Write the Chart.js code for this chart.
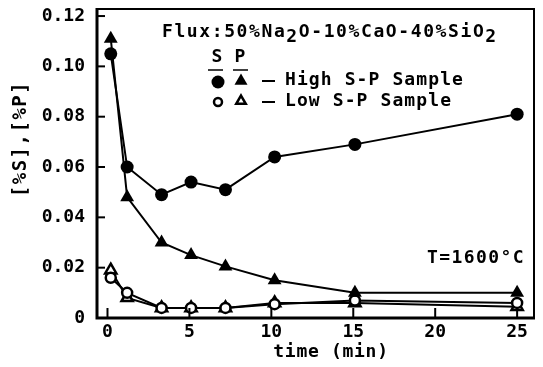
<!DOCTYPE html>
<html><head><meta charset="utf-8">
<script src="https://cdn.jsdelivr.net/npm/chart.js@4/dist/chart.umd.min.js"></script>
<style>html,body{margin:0;padding:0;background:#fff}#wrap{width:543px;height:367px}</style>
</head><body><div id="wrap"><canvas id="c" width="543" height="367"></canvas></div>
<script>
// time (min) of each sample
const times = [0.2, 1.2, 3.3, 5.1, 7.2, 10.2, 15.1, 25.0];
// High S-P sample
const highS = [0.105, 0.060, 0.049, 0.054, 0.051, 0.064, 0.069, 0.081];
const highP = [0.111, 0.048, 0.030, 0.025, 0.0205, 0.015, 0.010, 0.010];
// Low S-P sample
const lowS = [0.016, 0.010, 0.004, 0.004, 0.004, 0.0055, 0.007, 0.006];
const lowP = [0.019, 0.008, 0.004, 0.004, 0.004, 0.006, 0.006, 0.0045];
// axis ticks
const xTicks = [0, 5, 10, 15, 20, 25];
const yTicks = [0, 0.02, 0.04, 0.06, 0.08, 0.10, 0.12];
const yTitle = '[%S],[%P]';
const xTitle = 'time (min)';

const FONT = 'DejaVu Sans Mono';
const pts = arr => times.map((t, i) => ({x: t, y: arr[i]}));

const overlay = {
  id: 'overlay',
  afterDatasetsDraw(chart) {
    const ctx = chart.ctx, a = chart.chartArea;
    const xs = chart.scales.x, ys = chart.scales.y;
    ctx.save();
    ctx.strokeStyle = '#000';
    ctx.lineCap = 'butt';
    // frame
    ctx.lineWidth = 2;
    ctx.beginPath();
    ctx.moveTo(a.left, a.top); ctx.lineTo(a.right, a.top); ctx.lineTo(a.right, a.bottom);
    ctx.stroke();
    ctx.lineWidth = 3;
    ctx.beginPath();
    ctx.moveTo(a.left, a.top - 1); ctx.lineTo(a.left, a.bottom); ctx.lineTo(a.right + 1, a.bottom);
    ctx.stroke();
    // inner ticks
    ctx.lineWidth = 2;
    yTicks.forEach(v => {
      const y = ys.getPixelForValue(v);
      ctx.beginPath(); ctx.moveTo(a.left, y); ctx.lineTo(a.left + 8, y); ctx.stroke();
    });
    xTicks.forEach(v => {
      const x = xs.getPixelForValue(v);
      ctx.beginPath(); ctx.moveTo(x, a.bottom); ctx.lineTo(x, a.bottom - 10); ctx.stroke();
    });
    // texts
    ctx.fillStyle = '#000';
    ctx.font = 'bold 18px "' + FONT + '"';
    ctx.textBaseline = 'middle';
    ctx.textAlign = 'left';
    ctx.letterSpacing = '1.6px';
    // flux text with subscripts
    let x = 162; const fy = 32;
    const parts = [['Flux:50%Na', 0], ['2', 5], ['O-10%CaO-40%SiO', 0], ['2', 5]];
    parts.forEach(([t, dy]) => { ctx.fillText(t, x, fy + dy); x += ctx.measureText(t).width; });
    // legend header
    ctx.letterSpacing = '0px';
    ctx.textAlign = 'center';
    ctx.fillText('S', 217, 57);
    ctx.fillText('P', 240, 57);
    ctx.lineWidth = 1.5;
    ctx.beginPath(); ctx.moveTo(208, 70); ctx.lineTo(223, 70); ctx.moveTo(233, 70); ctx.lineTo(248, 70); ctx.stroke();
    // legend rows
    const H = Chart.helpers;
    ctx.fillStyle = '#000';
    H.drawPoint(ctx, {pointStyle: 'circle', radius: 6.5, borderWidth: 0}, 218, 82);
    H.drawPoint(ctx, {pointStyle: 'triangle', radius: 7.5, borderWidth: 0}, 241, 81);
    ctx.fillStyle = '#fff'; ctx.lineWidth = 2.5;
    H.drawPoint(ctx, {pointStyle: 'circle', radius: 4, borderWidth: 2.5}, 218, 102);
    H.drawPoint(ctx, {pointStyle: 'triangle', radius: 5.5, borderWidth: 2.5}, 241, 101);
    ctx.fillStyle = '#000';
    ctx.lineWidth = 2;
    ctx.beginPath(); ctx.moveTo(262, 81); ctx.lineTo(275, 81); ctx.moveTo(262, 102); ctx.lineTo(275, 102); ctx.stroke();
    ctx.textAlign = 'left';
    ctx.letterSpacing = '1.1px';
    ctx.fillText('High S-P Sample', 285, 80);
    ctx.fillText('Low S-P Sample', 285, 101);
    ctx.letterSpacing = '1.4px';
    ctx.fillText('T=1600°C', 427, 258);
    // x title
    ctx.textAlign = 'center';
    ctx.letterSpacing = '0.7px';
    ctx.fillText(xTitle, 331, 352);
    // y title
    ctx.save();
    ctx.translate(21, 139);
    ctx.rotate(-Math.PI / 2);
    ctx.letterSpacing = '1.5px';
    ctx.font = 'bold 19px "' + FONT + '"';
    ctx.fillText(yTitle, 0, 0);
    ctx.restore();
    ctx.restore();
  }
};

const common = {showLine: true, borderColor: '#000', borderWidth: 2, tension: 0, pointBorderColor: '#000'};

new Chart(document.getElementById('c'), {
  type: 'scatter',
  data: {
    datasets: [
      Object.assign({label: 'Low P', data: pts(lowP), pointStyle: 'triangle', pointRadius: 6.5, pointBorderWidth: 2.5, pointBackgroundColor: '#fff', order: 4}, common),
      Object.assign({label: 'Low S', data: pts(lowS), pointStyle: 'circle', pointRadius: 5, pointBorderWidth: 2.5, pointBackgroundColor: '#fff', order: 3}, common),
      Object.assign({label: 'High P', data: pts(highP), pointStyle: 'triangle', pointRadius: 8, pointBorderWidth: 0, pointBackgroundColor: '#000', order: 2}, common),
      Object.assign({label: 'High S', data: pts(highS), pointStyle: 'circle', pointRadius: 6.5, pointBorderWidth: 0, pointBackgroundColor: '#000', order: 1}, common)
    ]
  },
  options: {
    responsive: false,
    animation: false,
    devicePixelRatio: 1,
    layout: {padding: {left: 10, right: 6, top: 8, bottom: 0}},
    plugins: {legend: {display: false}, tooltip: {enabled: false}},
    scales: {
      x: {
        type: 'linear', min: -0.64, max: 26.03,
        afterBuildTicks: s => { s.ticks = xTicks.map(v => ({value: v})); },
        afterFit: s => { s.height = 49; s.paddingLeft = 0; s.paddingRight = 0; },
        grid: {display: false, drawTicks: false}, border: {display: false},
        ticks: {color: '#000', font: {family: FONT, size: 18, weight: 'bold'}, padding: 4, maxRotation: 0, autoSkip: false,
                callback: v => String(v)}
      },
      y: {
        type: 'linear', min: 0, max: 0.1228,
        afterBuildTicks: s => { s.ticks = yTicks.map(v => ({value: v})); },
        afterFit: s => { s.width = 87; s.paddingTop = 0; s.paddingBottom = 0; },
        grid: {display: false, drawTicks: false}, border: {display: false},
        ticks: {color: '#000', font: {family: FONT, size: 18, weight: 'bold'}, padding: 12, autoSkip: false,
                callback: v => v === 0 ? '0' : v.toFixed(2)},
        title: {display: false}
      }
    }
  },
  plugins: [overlay]
});
</script>
</body></html>
